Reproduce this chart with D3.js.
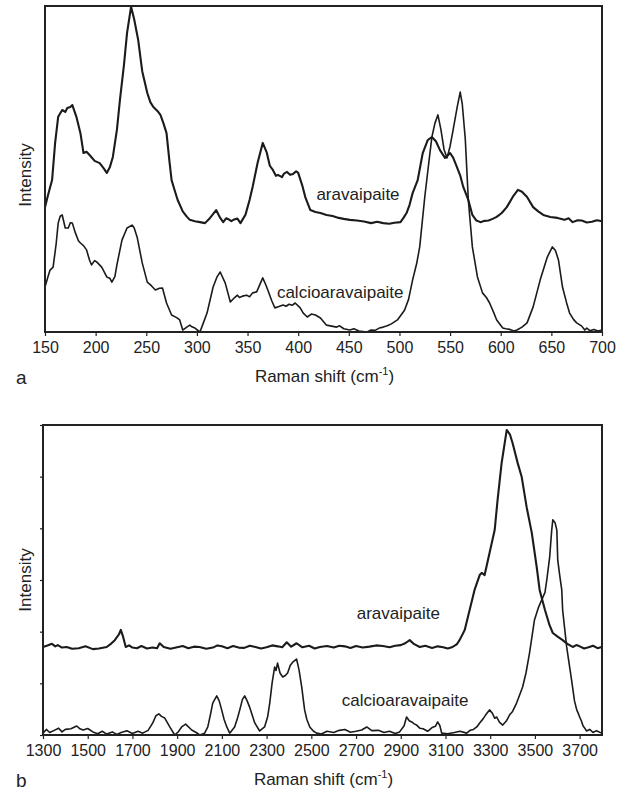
<!DOCTYPE html>
<html>
<head>
<meta charset="utf-8">
<script src="https://cdn.jsdelivr.net/npm/d3@7"></script>
<style>
  body { margin: 0; background: #fff; }
  text { font-family: "Liberation Sans", Arial, sans-serif; fill: #222; }
</style>
</head>
<body>
<div id="chart"></div>
<script>
// Panel a: low wavenumber region, [Raman shift, intensity]
var aAravaipaite = [[150,38.3],[153,42.0],[157,46.6],[160,58],[163,66.0],[167,68.1],[170,67.5],[172,68.7],[175,69.0],[177,69.6],
  [181,66],[185,61.0],[188,54.9],[191,55.3],[194,54.3],[199,52.5],[204,51.8],[208,50.2],[211,48.8],[214,50.5],[217,53.7],[221,62],
  [224,71.2],[228,82],[231,91.7],[235,99.8],[238,96],[242,89.6],[246,80],[251,73.3],[254,70.5],[257,69.0],[261,67.8],[264,66.6],[267,64],
  [270,61.0],[273,52],[275,46.6],[278,43.5],[281,40.5],[286,37],[290,35.4],[293,34.4],[298,34.0],[303,33.7],[308,33.4],[313,35],[319,37.4],
  [323,35],[326,33.7],[329,34.9],[331,34.6],[334,34.0],[336,34.4],[340,34.8],[343,33.4],[348,36],[352,40.5],[355,44.5],[360,52],[365,58.0],[369,55],
  [372,51],[375,49.7],[378,47.9],[380,48.2],[384,47.5],[386,48.6],[389,49.1],[392,48.2],[395,48.5],[398,49.3],[400,48.8],[404,45],[407,41.4],[412,37.4],[417,36.8],
  [422,36.5],[428,35.9],[434,35.6],[440,35.0],[445,34.7],[451,34.4],[458,34.2],[465,33.9],[472,33.4],[478,33.8],[484,33.4],[490,33.2],[495,33.5],[501,33.7],[504,35],[507,36.5],[510,39],
  [513,42.6],[518,46.6],[523,54.9],[528,58.9],[532,59.8],[536,58.5],[540,55.8],[545,53.4],[550,54.9],[553,53.5],
  [556,51.2],[560,48],[563,44.5],[568,40.5],[572,35.9],[576,34.2],[580,33.7],[584,34.1],[588,34.2],[592,34.7],[596,35.3],[601,36.5],
  [606,38.3],[612,41.5],[617,43.6],[621,43.0],[626,41.4],[632,38.3],[637,37],[642,35.9],[649,35.3],[656,35.0],
  [663,34.4],[667,34.9],[671,33.7],[676,34.3],[680,34.2],[685,33.6],[690,33.8],[695,34.3],[700,34.0]];

var aCalcio = [[150,13.8],[153,17],[155,19.0],[158,19.9],[161,27],[163,33.4],[165,35.5],[167,35.9],[170,31.9],
  [173,31.9],[175,33.5],[177,33.4],[180,30.4],[183,28],[185,27.3],[188,26.5],[191,25.2],[194,22],[196,20.6],[199,21.9],[201,21.5],
  [206,19.9],[211,16.9],[214,16.5],[216,15.3],[219,17],[221,20.6],[226,28.2],[231,31.9],[236,32.8],[238,32],[241,29.1],
  [246,21.2],[251,15.3],[255,14.2],[259,12.9],[263,13.4],[266,13.5],[270,8.9],[275,5.2],[280,4.4],[283,3.7],[286,0.6],
  [290,1.5],[293,2.1],[295,1.6],[298,1.2],[303,0],[306,2.5],[310,5.8],[316,13.8],[320,17],[323,18.4],[328,15.0],[333,9.2],
  [337,10.5],[340,11.3],[342,10.6],[345,11.0],[349,11.3],[352,10.8],[355,12.0],[359,12.3],[365,16.6],[368,14.5],[370,12.9],[374,9.5],
  [377,7.4],[381,7.8],[385,8.3],[388,7.9],[391,8.5],[394,8.2],[397,8.9],[402,7.4],[405,5.8],[409,4.6],[413,5.5],[417,5.2],[422,4.3],
  [428,2.1],[433,1.8],[438,1.5],[441,1.9],[445,1.0],[451,0.6],[455,1.0],[460,0.3],[468,0],[472,0.6],[476,0.5],[480,1.2],[484,1.5],[488,1.9],[492,2.5],[498,3.7],
  [505,6.7],[509,10],[513,16.0],[517,21],[520,26.1],[525,41.4],[529,52],[532,59.8],[535,64],[538,66.6],[541,62],
  [544,56],[547,53.4],[550,57],[553,62.0],[557,69],[560,73.6],[562,70],[565,59.2],[568,40.5],[572,26.1],[577,16.9],
  [582,12.0],[586,10.5],[589,8.9],[593,6],[596,3.7],[602,1.2],[605,1.0],[609,0.8],[613,0.3],[616,0.6],[621,1.5],[626,2.8],[632,7.7],
  [639,16.0],[643,20],[646,23.0],[651,26.1],[654,25],[657,22.1],[661,13.8],[665,9],[668,5.8],[672,3.8],[675,2.8],[680,1.8],
  [683,0.6],[685,1.2],[688,0.4],[692,0.8],[696,0.3],[700,0.6]];

// Panel b: OH stretching region
var bAravaipaite = [[1300,28.4],[1320,28.9],[1340,29.4],[1355,28.6],[1366,29.0],[1385,28.2],[1406,28.4],[1430,27.8],[1460,28.0],
  [1490,28.6],[1523,27.7],[1550,27.9],[1585,28.4],[1605,29.5],
  [1621,30.6],[1640,32.5],[1648,33.9],[1657,32],[1670,28.4],[1685,28.9],[1700,28.2],[1720,28.0],[1740,28.7],[1765,27.9],
  [1790,28.2],[1810,28.0],[1822,29.6],[1840,28.4],[1870,27.8],
  [1900,28.3],[1925,28.7],[1950,28.0],[1975,28.5],[2000,28.4],[2030,27.8],[2060,28.2],[2080,28.9],[2100,28.6],[2125,28.0],
  [2150,28.7],[2175,28.2],[2200,28.1],[2225,28.8],[2250,28.4],[2275,27.9],[2300,28.3],[2325,28.9],
  [2350,28.6],[2370,28.3],[2390,29.9],[2410,28.5],[2434,29.6],[2460,28.3],[2490,28.8],[2515,27.9],[2538,28.4],[2570,28.7],
  [2600,28.2],[2625,28.8],[2650,28.6],[2675,28.1],[2700,28.7],
  [2730,28.2],[2760,28.5],[2790,28.9],[2820,28.7],[2850,28.3],[2875,28.8],[2900,29.0],[2920,29.6],[2940,30.6],[2960,29.3],
  [2985,28.4],[3010,28.8],[3040,28.1],[3065,28.6],[3090,28.3],[3110,27.9],[3132,28.4],
  [3150,29.2],[3163,30.6],[3186,33.9],[3208,40.3],[3230,46.8],[3253,51.6],[3262,52.3],[3275,51.6],[3297,58.7],
  [3320,66.1],[3333,75.8],[3351,87.7],[3374,98.4],[3388,97],[3400,94.2],[3423,87.7],[3441,83.2],[3463,73.5],
  [3486,65.2],[3508,54.2],[3521,46.8],[3545,40.3],[3565,35.5],[3580,32.9],[3600,31.8],[3624,30.6],[3645,29.4],
  [3669,28.4],[3685,29.0],[3700,28.6],[3720,27.9],[3740,28.3],[3760,28.8],[3780,28.0],[3798,28.4]];

var bCalcio = [[1300,0.6],[1315,1.8],[1330,0.8],[1350,1.5],[1370,2.2],[1385,1.0],[1400,1.8],[1425,2.0],[1451,2.9],[1465,2.0],
  [1480,1.6],[1500,2.1],[1523,1.0],[1545,0.4],[1565,1.2],[1585,0.3],[1610,1.0],[1630,0.2],[1650,0.8],[1675,1.4],[1700,0.5],
  [1725,1.2],[1746,0.6],[1770,1.5],[1791,3.9],[1805,6.2],[1818,6.8],[1830,6.0],[1844,5.5],[1867,2.6],[1889,0],[1905,1.0],[1920,2.6],[1938,3.5],
  [1965,1.6],[1985,0.8],[2001,0],[2023,0.6],[2037,2.6],[2050,7],[2059,10.3],[2077,12.6],[2088,11],[2099,8.1],[2110,5],[2122,2.6],
  [2135,0.6],[2157,2.6],[2170,5.5],[2180,8.1],[2192,11.5],[2202,12.6],[2213,11],[2224,9.0],[2247,3.9],[2269,1.3],[2291,2.6],[2305,6],
  [2314,10.3],[2325,17],[2336,21.9],[2342,20.8],[2349,23.2],[2360,20],[2372,18.7],[2384,19.2],[2394,20.0],[2406,22.5],[2417,23.5],[2434,24.5],[2445,21],
  [2457,15.5],[2470,8.1],[2480,5.0],[2493,2.6],[2510,1.2],[2524,0.6],[2545,0.3],[2570,1.2],[2600,0.8],[2625,1.5],[2650,1.8],[2675,0.9],
  [2700,1.2],[2725,1.6],[2748,2.6],[2770,1.4],[2800,1.5],[2825,0.8],[2850,1.2],[2875,0.5],
  [2895,1.0],[2915,3],[2926,5.8],[2938,4.6],[2949,4.2],[2960,3.6],[2971,3.2],[2985,2.2],[3000,2.0],[3020,1.2],[3040,2.4],[3055,2.8],
  [3065,4.2],[3075,3.0],[3083,0.6],[3110,0.4],[3140,0.8],[3165,1.2],
  [3195,0.6],[3210,1.5],[3225,1.8],[3240,2.6],[3253,3.9],[3268,5.2],[3280,6.5],[3297,8.1],[3310,7],[3320,5.4],[3329,5.8],[3342,4.1],[3356,3.2],[3372,4.5],[3387,6.5],
  [3400,7.6],[3418,10.3],[3432,13],[3445,15.5],[3460,20],[3476,26.5],[3498,37.1],[3515,41],[3530,43.5],[3545,46],[3553,50],[3566,57.4],
  [3575,66],[3580,69.4],[3590,68.5],[3598,66.1],[3602,56.5],[3610,52],[3620,46.8],[3624,40.3],[3642,28.4],
  [3664,17.7],[3677,11],[3687,8.1],[3695,6.8],[3700,5.8],[3708,4.5],[3715,3],[3723,2.2],[3731,1.3],[3745,1.8],[3760,0.8],[3775,1.4],[3798,0.6]];

// tick values
var aTicks = [150, 200, 250, 300, 350, 400, 450, 500, 550, 600, 650, 700];
var bTicks = [1300, 1500, 1700, 1900, 2100, 2300, 2500, 2700, 2900, 3100, 3300, 3500, 3700];
var bYTicks = [0, 1, 2, 3, 4, 5, 6];

var svg = d3.select("#chart")
  .append("svg")
  .attr("width", 625)
  .attr("height", 792);

var tickSize = 16;
var labelSize = 17;

function xLabel(g, x, y) {
  var t = g.append("text")
    .attr("x", x)
    .attr("y", y)
    .attr("text-anchor", "middle")
    .style("font-size", labelSize + "px");
  t.append("tspan").text("Raman shift (cm");
  t.append("tspan").attr("dy", -7).style("font-size", "11px").text("-1");
  t.append("tspan").attr("dy", 7).text(")");
}

function yLabel(g, x, y) {
  g.append("text")
    .attr("transform", `translate(${x}, ${y}) rotate(-90)`)
    .attr("text-anchor", "middle")
    .style("font-size", labelSize + "px")
    .text("Intensity");
}

function drawPanel(cfg) {
  var x = d3.scaleLinear().domain(cfg.xDomain).range([cfg.left, cfg.right]);
  var y = d3.scaleLinear().domain([0, 100]).range([cfg.bottom, cfg.top]);

  var line = d3.line()
    .x(d => x(d[0]))
    .y(d => y(d[1]));

  // spectra
  svg.append("path")
    .datum(cfg.ara)
    .attr("d", line)
    .attr("fill", "none")
    .attr("stroke", "#1b1b1b")
    .attr("stroke-width", 2.1)
    .attr("stroke-linejoin", "round");

  svg.append("path")
    .datum(cfg.calcio)
    .attr("d", line)
    .attr("fill", "none")
    .attr("stroke", "#1b1b1b")
    .attr("stroke-width", 1.6)
    .attr("stroke-linejoin", "round");

  // x axis
  var xAxis = d3.axisBottom(x)
    .tickValues(cfg.ticks)
    .tickFormat(d3.format("d"))
    .tickSize(cfg.tickOut)
    .tickPadding(6);

  var gx = svg.append("g")
    .attr("transform", `translate(0, ${cfg.bottom})`)
    .call(xAxis);
  gx.select(".domain").remove();
  gx.selectAll("line").attr("stroke", "#222").attr("stroke-width", 1.2);
  gx.selectAll("text")
    .style("font-size", tickSize + "px")
    .style("font-family", "'Liberation Sans', Arial, sans-serif")
    .attr("fill", "#222");

  if (cfg.yTicks) {
    var ys = d3.scaleLinear().domain([0, 6]).range([cfg.bottom, cfg.top]);
    svg.append("g")
      .attr("transform", `translate(${cfg.left}, 0)`)
      .call(d3.axisLeft(ys).tickValues(cfg.yTicks).tickSize(3).tickFormat(""))
      .call(g => g.select(".domain").remove())
      .selectAll("line").attr("stroke", "#222").attr("stroke-width", 1.2);
  }

  // frame
  svg.append("rect")
    .attr("x", cfg.left)
    .attr("y", cfg.top)
    .attr("width", cfg.right - cfg.left)
    .attr("height", cfg.bottom - cfg.top)
    .attr("fill", "none")
    .attr("stroke", "#222")
    .attr("stroke-width", 2);

  // series names
  svg.append("text")
    .attr("x", x(cfg.araLabel[0]))
    .attr("y", y(cfg.araLabel[1]))
    .style("font-size", labelSize + "px")
    .text("aravaipaite");
  svg.append("text")
    .attr("x", x(cfg.calLabel[0]))
    .attr("y", y(cfg.calLabel[1]))
    .style("font-size", labelSize + "px")
    .text("calcioaravaipaite");

  xLabel(svg, (cfg.left + cfg.right) / 2 + 1, cfg.bottom + 50);
  yLabel(svg, 31, cfg.yMid);

  svg.append("text")
    .attr("x", 16)
    .attr("y", cfg.bottom + 52)
    .style("font-size", "19px")
    .text(cfg.letter);
}

drawPanel({
  left: 45, right: 602, top: 6, bottom: 332,
  xDomain: [150, 700], ticks: aTicks, tickOut: 4,
  ara: aAravaipaite, calcio: aCalcio,
  araLabel: [418, 40.5], calLabel: [379, 10.4],
  yMid: 175, letter: "a"
});

drawPanel({
  left: 43, right: 602, top: 425, bottom: 735,
  xDomain: [1300, 3800], ticks: bTicks, tickOut: 4,
  ara: bAravaipaite, calcio: bCalcio,
  araLabel: [2703, 37.4], calLabel: [2636, 9.4],
  yTicks: bYTicks, yMid: 580, letter: "b"
});
</script>
</body>
</html>
